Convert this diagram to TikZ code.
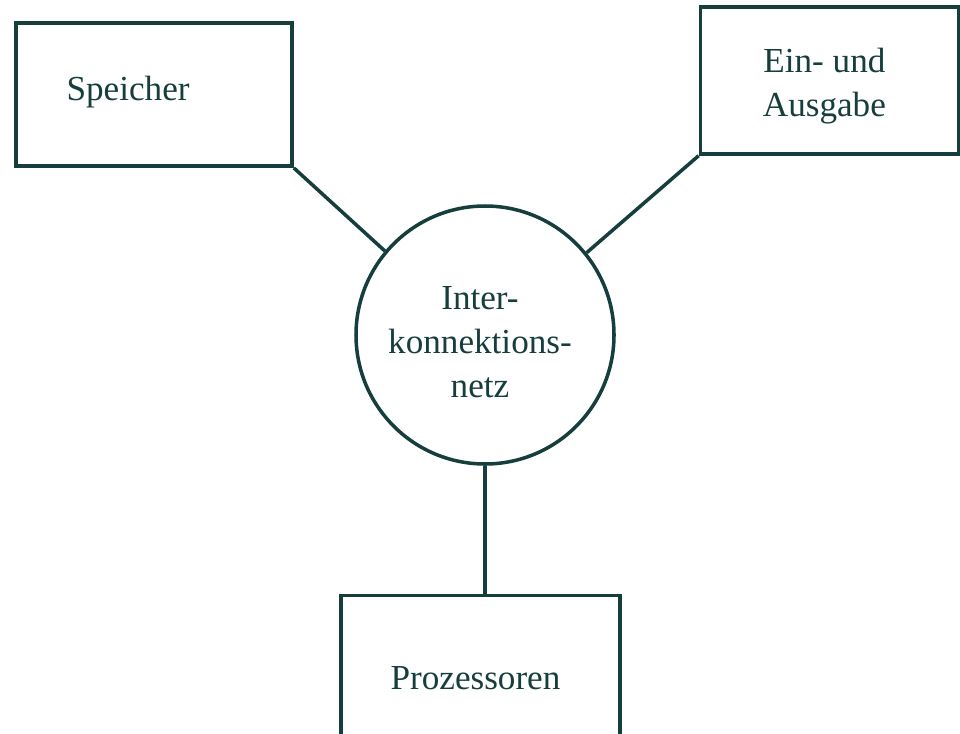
\documentclass[tikz,border=0pt]{standalone}
\usepackage{fontspec}
\setmainfont{Liberation Serif}
\usepackage{tikz}
\usetikzlibrary{positioning}
\definecolor{ink}{RGB}{22,62,60}

\begin{document}
\begin{tikzpicture}[-,line width=2pt,draw=ink,text=ink,font=\fontsize{20}{25}\selectfont]
\tikzstyle{box}=[draw=ink,rectangle,inner sep=0pt]
\tikzstyle{hub}=[draw=ink,circle,minimum size=5.16cm,inner sep=0pt]
\tikzstyle{inside}=[text=ink,align=center]

\clip (0,0) rectangle (19.2,-14.66);

\node[hub,label={[inside,xshift=-0.1cm,yshift=-0.15cm]center:Inter-\\konnektions-\\netz}] (netz) at (9.7,-6.7) {};
\node[box,minimum width=5.52cm,minimum height=2.86cm,above left=1.66cm and 1.82cm of netz.140,
  label={[inside,xshift=-0.52cm,yshift=0.06cm]center:Speicher}] (speicher) {};
\node[box,minimum width=5.16cm,minimum height=2.94cm,above right=1.94cm and 2.24cm of netz.39,
  label={[inside,xshift=-0.1cm,yshift=-0.12cm]center:Ein- und\\Ausgabe}] (io) {};
\node[box,minimum width=5.58cm,minimum height=3.3cm,below=2.56cm of netz,xshift=-0.09cm,
  label={[inside,xshift=-0.1cm]center:Prozessoren}] (proz) {};

\draw[ink] (speicher.south east) -- (netz.140);
\draw[ink] (io.south west) -- (netz.39);
\draw[ink] (netz.south) -- (netz.south |- proz.north);
\end{tikzpicture}
\end{document}
